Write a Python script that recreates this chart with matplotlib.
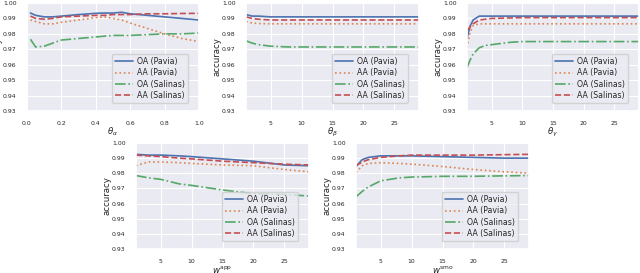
import numpy as np
import matplotlib
matplotlib.use("Agg")
import matplotlib.pyplot as plt
import seaborn as sns

sns.set_theme(style="darkgrid")
plt.rcParams['font.family'] = ['DejaVu Sans']

series_names = ["OA (Pavia)", "AA (Pavia)", "OA (Salinas)", "AA (Salinas)"]

# theta_alpha
xa = [0.02, 0.05, 0.1, 0.15, 0.2, 0.3, 0.4, 0.45, 0.5, 0.55, 0.6, 0.7, 0.8, 0.9, 1.0]
a_oa_pavia = [0.9935, 0.992, 0.991, 0.991, 0.9915, 0.9925, 0.9933, 0.9935, 0.9935, 0.994, 0.993, 0.992, 0.991, 0.990, 0.989]
a_aa_pavia = [0.989, 0.988, 0.9865, 0.9865, 0.9875, 0.989, 0.9905, 0.991, 0.990, 0.989, 0.987, 0.9835, 0.980, 0.977, 0.975]
a_oa_salinas = [0.9765, 0.9715, 0.972, 0.974, 0.976, 0.977, 0.978, 0.9785, 0.979, 0.979, 0.979, 0.9795, 0.980, 0.980, 0.9805]
a_aa_salinas = [0.9915, 0.990, 0.9895, 0.990, 0.991, 0.9915, 0.992, 0.992, 0.9925, 0.9925, 0.9925, 0.993, 0.993, 0.9932, 0.9933]

# theta_beta
xb = [1, 2, 3, 5, 8, 10, 15, 20, 25, 29]
b_oa_pavia = [0.9925, 0.9915, 0.9915, 0.991, 0.991, 0.991, 0.991, 0.991, 0.991, 0.991]
b_aa_pavia = [0.988, 0.987, 0.9867, 0.9865, 0.9865, 0.9865, 0.9865, 0.9865, 0.9865, 0.9865]
b_oa_salinas = [0.9755, 0.974, 0.973, 0.972, 0.9715, 0.9715, 0.9715, 0.9715, 0.9715, 0.9715]
b_aa_salinas = [0.991, 0.990, 0.9895, 0.989, 0.989, 0.989, 0.989, 0.989, 0.989, 0.989]

# theta_gamma
xg = [1, 1.5, 2, 3, 4, 5, 8, 10, 15, 20, 25, 29]
g_oa_pavia = [0.977, 0.985, 0.989, 0.9915, 0.9915, 0.9915, 0.9915, 0.9915, 0.9915, 0.9915, 0.9915, 0.9915]
g_aa_pavia = [0.971, 0.981, 0.9855, 0.9865, 0.9865, 0.9865, 0.9865, 0.9865, 0.9865, 0.9865, 0.9865, 0.9865]
g_oa_salinas = [0.958, 0.963, 0.967, 0.971, 0.9725, 0.973, 0.9745, 0.975, 0.975, 0.975, 0.975, 0.975]
g_aa_salinas = [0.982, 0.9845, 0.9865, 0.989, 0.9895, 0.990, 0.9903, 0.9905, 0.9905, 0.9905, 0.9905, 0.9905]

# w_app
xw = [1, 3, 5, 8, 10, 15, 20, 25, 29]
w_oa_pavia = [0.9925, 0.992, 0.992, 0.9915, 0.991, 0.9895, 0.988, 0.9855, 0.985]
w_aa_pavia = [0.985, 0.9875, 0.9875, 0.987, 0.9865, 0.9855, 0.985, 0.9825, 0.981]
w_oa_salinas = [0.9785, 0.977, 0.976, 0.973, 0.972, 0.969, 0.9665, 0.966, 0.965]
w_aa_salinas = [0.992, 0.9915, 0.991, 0.990, 0.9895, 0.988, 0.987, 0.986, 0.9855]

# w_smo
xs = [1, 2, 3, 5, 8, 10, 15, 20, 25, 29]
s_oa_pavia = [0.9845, 0.989, 0.9905, 0.9915, 0.9915, 0.9915, 0.991, 0.9905, 0.990, 0.990]
s_aa_pavia = [0.9805, 0.985, 0.9865, 0.987, 0.9865, 0.986, 0.9845, 0.9825, 0.981, 0.980]
s_oa_salinas = [0.9645, 0.968, 0.971, 0.975, 0.977, 0.9775, 0.978, 0.978, 0.9783, 0.9785]
s_aa_salinas = [0.985, 0.9875, 0.989, 0.9905, 0.9915, 0.992, 0.992, 0.992, 0.9923, 0.9925]

panels = [
    (xa, [a_oa_pavia, a_aa_pavia, a_oa_salinas, a_aa_salinas], r"$\theta_\alpha$", (0, 1.0)),
    (xb, [b_oa_pavia, b_aa_pavia, b_oa_salinas, b_aa_salinas], r"$\theta_\beta$", (1, 29)),
    (xg, [g_oa_pavia, g_aa_pavia, g_oa_salinas, g_aa_salinas], r"$\theta_\gamma$", (1, 29)),
    (xw, [w_oa_pavia, w_aa_pavia, w_oa_salinas, w_aa_salinas], r"$w^{\mathrm{app}}$", (1, 29)),
    (xs, [s_oa_pavia, s_aa_pavia, s_oa_salinas, s_aa_salinas], r"$w^{\mathrm{smo}}$", (1, 29)),
]

W, H = 640, 273
# axes boxes in pixels: left, top, right, bottom
boxes = [(27, 3, 199, 111), (246, 3, 419, 111), (467, 3, 639, 111),
         (136, 143, 309, 249), (356, 143, 529, 249)]

colors = ["#4c72b0", "#dd8452", "#55a868", "#c44e52"]
styles = ["-", ":", "-.", "--"]
yticks = np.arange(0.93, 1.0001, 0.01)

fig = plt.figure(figsize=(6.4, 2.73), dpi=100)
for (x, ys, xlabel, xlim), (l, t, r, b) in zip(panels, boxes):
    ax = fig.add_axes([l / W, 1 - b / H, (r - l) / W, (b - t) / H])
    for y, name, c, ls in zip(ys, series_names, colors, styles):
        ax.plot(x, y, color=c, linestyle=ls, linewidth=1.2, label=name)
    ax.set_xlim(*xlim)
    ax.set_ylim(0.93, 1.00)
    ax.set_yticks(yticks)
    ax.set_yticklabels(["%.2f" % v for v in yticks])
    if xlim[0] == 0:
        ax.set_xticks([0, 0.2, 0.4, 0.6, 0.8, 1.0])
    else:
        ax.set_xticks([5, 10, 15, 20, 25])
    ax.tick_params(labelsize=4.4, pad=1.5)
    ax.grid(linewidth=0.8)
    ax.set_ylabel("accuracy", fontsize=6.2, labelpad=0.5)
    ax.set_xlabel(xlabel, fontsize=6.2, labelpad=-0.5)
    ax.legend(loc="lower right", bbox_to_anchor=(0.935, 0.074), borderaxespad=0,
              fontsize=5.6, handlelength=2.3, handletextpad=0.5, labelspacing=0.3)

fig.savefig("out.png", dpi=100)
